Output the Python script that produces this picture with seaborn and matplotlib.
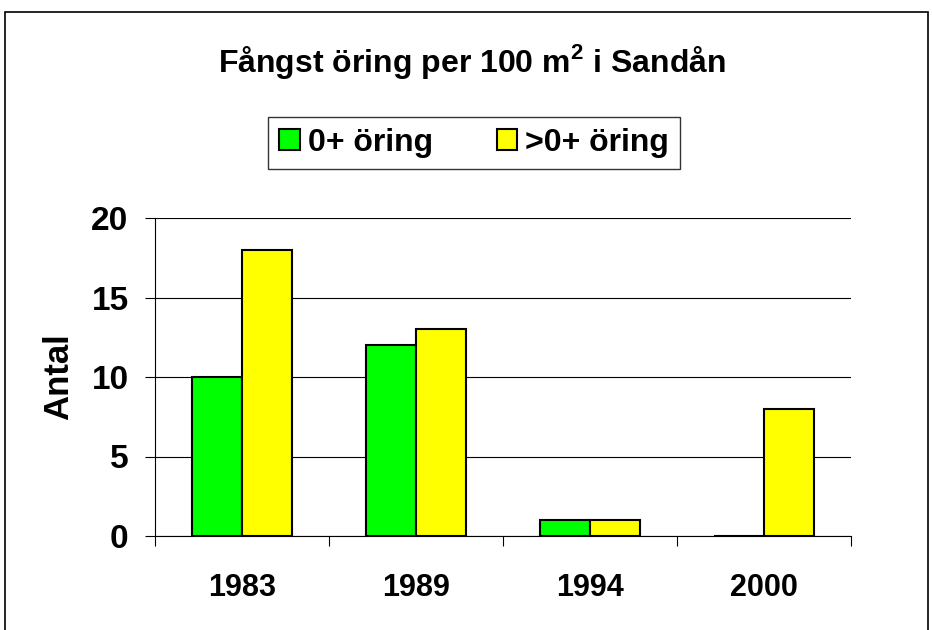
import pandas as pd
import seaborn as sns
import matplotlib.pyplot as plt
from matplotlib.patches import Rectangle

# data
years = ['1983', '1989', '1994', '2000']
age0 = [10, 12, 1, 0]
age_older = [18, 13, 1, 8]
series = ['0+ öring', '>0+ öring']

df = pd.DataFrame({
    'year': years * 2,
    'antal': age0 + age_older,
    'grupp': [series[0]] * 4 + [series[1]] * 4,
})

sns.set_style('white')
plt.rcParams['font.family'] = ['Liberation Sans', 'DejaVu Sans']
plt.rcParams['font.weight'] = 'bold'
plt.rcParams['text.color'] = 'black'
plt.rcParams['axes.labelcolor'] = 'black'
plt.rcParams['xtick.color'] = 'black'
plt.rcParams['ytick.color'] = 'black'
plt.rcParams['mathtext.fontset'] = 'custom'
plt.rcParams['mathtext.rm'] = 'Liberation Sans:bold'
plt.rcParams['mathtext.bf'] = 'Liberation Sans:bold'

fig = plt.figure(figsize=(9.32, 6.3), dpi=100)
ax = fig.add_axes([155 / 932, 1 - 536 / 630, 696 / 932, 318 / 630])

sns.barplot(data=df, x='year', y='antal', hue='grupp', hue_order=series,
            palette=['#00FF00', '#FFFF00'], width=0.575, gap=0,
            edgecolor='black', linewidth=1.5, saturation=1, ax=ax)

ax.set_xlim(-0.5, 3.5)
ax.set_ylim(0, 20)
ax.set_yticks([0, 5, 10, 15, 20])
ax.yaxis.grid(True, color='black', linewidth=0.8)
ax.set_axisbelow(True)
for s in ['top', 'right']:
    ax.spines[s].set_visible(False)
for s in ['left', 'bottom']:
    ax.spines[s].set_color('black')
    ax.spines[s].set_linewidth(0.8)

# tick marks sit between the categories, labels without marks
ax.set_xticks([-0.5, 0.5, 1.5, 2.5, 3.5], minor=True)
ax.tick_params(axis='x', which='minor', length=7, width=0.8, color='black',
               direction='out', bottom=True)
ax.tick_params(axis='x', which='major', length=0, pad=27, labelsize=22)
ax.tick_params(axis='y', length=7, width=0.8, color='black', direction='out',
               left=True, pad=12, labelsize=24)
for lab in ax.get_xticklabels() + ax.get_yticklabels():
    lab.set_fontweight('bold')

ax.set_xlabel('')
ax.set_ylabel('Antal', fontsize=25, fontweight='bold', labelpad=12)

handles, labels = ax.get_legend_handles_labels()
ax.get_legend().remove()
leg = fig.legend(handles, labels, loc='center', bbox_to_anchor=(474 / 932, 1 - 143 / 630),
                 ncol=2, frameon=True, fancybox=False, edgecolor='black',
                 prop={'size': 23, 'weight': 'bold'}, handlelength=0.65,
                 handleheight=0.65, handletextpad=0.25, columnspacing=2.0,
                 borderpad=0.35, borderaxespad=0)
leg.get_frame().set_linewidth(1.0)

fig.text(472 / 932, 1 - 72 / 630, r'Fångst öring per 100 m$^{2}$ i Sandån',
         ha='center', va='baseline', fontsize=23, fontweight='bold')

fig.add_artist(Rectangle((5 / 932, -0.1), 923 / 932, 1.1 - 12 / 630,
                         transform=fig.transFigure, fill=False,
                         edgecolor='black', linewidth=1.2))

fig.savefig('out.png', dpi=100)
